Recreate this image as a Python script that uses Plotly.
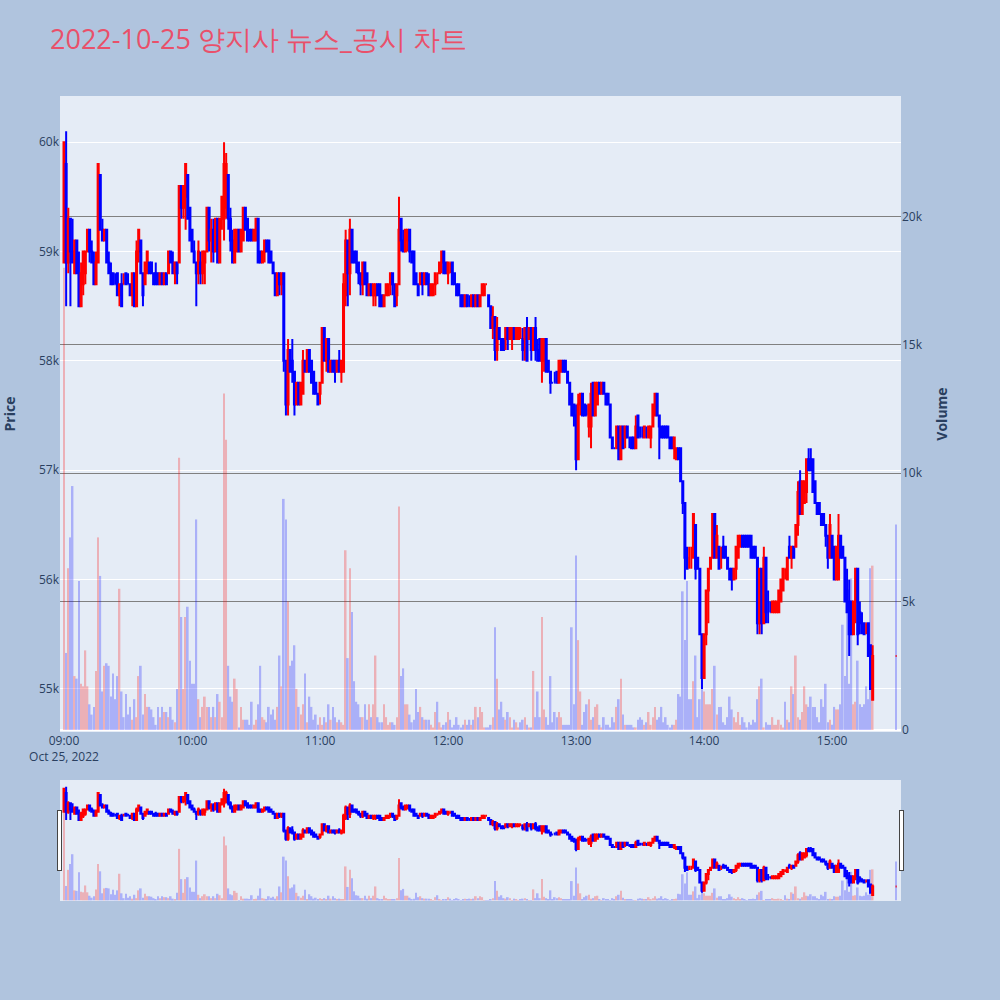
import pandas as pd
import plotly.graph_objects as go

# prices are in hundreds of won (589 -> 58,900)
open_h = [
    589,598,589,593,590,588,591,588,585,587, 588,590,592,590,589,587,589,597,592,591,
    592,589,588,588,587,588,586,587,587,588, 587,587,586,588,585,590,591,588,587,588,
    589,589,588,588,588,587,588,587,588,588, 590,589,588,589,589,596,594,595,597,594,
    592,590,589,588,589,588,589,590,594,591, 592,590,593,589,593,593,594,597,593,591,
    589,590,592,590,591,594,593,592,592,591, 591,593,590,589,590,591,591,590,589,588,
    586,588,587,588,580,576,581,580,579,576, 578,576,577,580,579,581,580,579,578,577,
    577,578,583,580,582,579,580,580,579,580, 579,579,586,591,588,592,590,590,589,588,
    587,589,588,586,587,586,586,587,587,586, 585,586,586,587,588,587,586,587,593,591,
    590,591,592,590,590,588,587,587,588,587, 588,587,586,586,587,588,588,589,590,589,
    588,589,589,588,587,587,586,586,585,586, 585,585,586,585,586,585,586,586,587,586,
    585,583,584,581,583,582,582,582,583,582, 582,583,582,582,583,582,582,583,582,583,
    581,583,581,582,580,580,582,580,579,578, 578,579,578,579,580,580,579,578,577,576,
    575,571,576,577,576,575,574,574,578,575, 576,578,577,578,577,577,576,573,572,572,
    574,571,574,573,574,573,573,573,572,575, 573,573,573,573,573,573,574,575,577,575,
    574,574,574,574,573,573,572,571,572,572, 569,567,562,562,562,562,565,562,561,555,
    551,555,559,561,562,566,562,563,562,563, 563,562,561,561,560,561,562,563,564,564,
    564,564,564,563,563,562,556,561,556,562, 557,557,557,557,557,557,558,559,561,560,
    563,562,563,563,565,569,566,567,568,571, 571,571,569,567,567,566,566,565,564,562,
    564,563,560,560,564,563,562,559,558,558, 555,558,561,557,556,556,556,556,554,549,
    553,
]
high_h = [
    600,601,594,593,593,591,591,590,589,590, 590,592,592,591,590,590,598,597,593,592,
    592,590,589,588,588,588,587,588,588,588, 588,587,588,588,591,592,591,588,589,590,
    589,589,588,589,588,588,588,588,588,590, 590,590,589,589,596,596,596,598,597,594,
    592,591,589,591,590,590,590,594,594,593, 593,593,593,593,595,600,599,597,594,592,
    592,592,592,592,594,594,593,592,592,592, 593,593,590,590,591,591,591,590,589,588,
    588,588,588,588,580,582,581,582,579,578, 578,578,581,580,581,581,580,579,578,577,
    578,583,583,582,582,580,580,580,580,581, 580,588,592,591,593,592,590,590,589,588,
    589,589,588,587,587,587,587,587,587,586, 586,587,587,588,588,587,587,595,593,592,
    592,592,592,590,590,588,587,588,588,588, 588,588,587,587,588,588,589,590,590,589,
    589,589,589,588,587,587,586,586,586,586, 586,586,586,586,586,586,587,587,587,586,
    585,585,584,584,583,582,582,583,583,583, 583,583,583,583,583,583,583,584,583,583,
    583,584,582,582,582,582,582,580,579,578, 579,579,580,580,580,580,579,578,577,576,
    576,577,577,577,576,576,576,578,578,578, 578,578,578,578,577,577,576,573,572,574,
    574,574,574,574,574,573,573,573,575,575, 574,574,574,574,574,574,576,577,577,575,
    574,574,574,574,573,573,573,572,572,572, 569,567,563,563,563,566,565,562,561,555,
    555,559,561,562,566,566,565,563,563,564, 563,562,561,561,561,563,564,564,564,564,
    564,564,564,563,563,562,561,561,563,562, 559,558,558,558,558,559,560,561,561,562,
    564,563,563,565,569,570,569,569,571,572, 572,571,569,567,567,566,566,565,564,566,
    564,563,563,566,564,563,562,561,560,558, 558,561,561,558,557,556,556,556,554,554,
    553,
]
low_h = [
    589,585,588,585,589,588,588,585,585,586, 587,590,589,589,587,587,589,592,591,591,
    589,588,587,587,587,586,585,585,587,587, 587,586,585,585,585,589,588,585,587,588,
    588,588,587,587,587,587,587,587,587,588, 589,588,587,587,589,593,593,592,593,591,
    590,589,585,587,587,587,587,590,590,589, 589,590,589,589,592,591,593,592,590,589,
    589,590,590,590,591,592,591,591,591,591, 591,589,589,589,589,590,589,589,588,586,
    586,586,586,579,575,575,579,578,575,576, 576,576,577,579,579,579,578,577,577,576,
    576,578,580,579,579,579,579,578,579,579, 578,579,585,585,586,589,589,588,587,586,
    586,587,586,586,586,585,585,586,585,585, 585,586,586,586,586,585,585,587,590,590,
    590,590,589,589,587,587,586,587,586,587, 587,586,586,586,586,587,588,588,588,588,
    587,588,587,587,586,586,585,585,585,585, 585,585,585,585,585,585,586,586,587,585,
    583,582,580,580,582,581,581,581,581,582, 581,582,582,582,582,580,580,580,582,580,
    581,580,580,580,578,579,579,579,577,578, 578,578,578,579,579,579,578,576,575,574,
    570,571,575,575,575,575,573,572,575,575, 576,577,577,577,576,576,573,572,572,572,
    571,571,572,572,573,572,572,572,572,573, 573,573,573,573,573,572,574,575,575,571,
    573,573,573,573,572,572,571,571,571,569, 566,560,561,561,561,562,560,561,555,550,
    551,554,556,561,562,562,562,561,561,562, 562,561,560,559,560,560,562,563,563,563,
    563,563,562,562,562,555,555,555,556,556, 556,557,557,557,557,557,558,559,560,560,
    562,561,562,563,564,566,566,567,567,570, 570,568,567,566,566,565,565,563,561,562,
    562,560,560,560,562,562,558,557,553,555, 555,556,554,555,555,555,555,553,550,549,
    553,
]
close_h = [
    600,589,593,590,589,591,588,585,588,590, 590,592,590,589,587,589,598,592,591,592,
    589,588,587,587,587,586,587,585,587,587, 587,586,588,585,590,592,588,586,589,590,
    588,588,587,587,587,588,587,588,587,590, 589,588,589,588,596,594,596,598,593,591,
    590,589,588,590,588,590,590,594,591,592, 590,593,589,593,595,598,598,593,591,589,
    592,592,590,592,594,592,591,591,591,592, 593,589,589,590,591,590,589,589,588,586,
    588,587,588,580,576,581,579,579,576,578, 576,578,580,579,581,579,578,577,577,576,
    578,583,580,582,579,580,579,579,580,579, 580,587,591,588,592,589,589,589,588,587,
    589,587,586,587,586,587,587,586,585,585, 586,587,587,588,587,585,587,592,591,590,
    592,592,590,589,587,587,586,588,587,588, 587,586,587,587,588,588,589,590,588,588,
    589,589,587,587,586,586,585,585,586,585, 585,586,585,586,585,586,587,587,587,585,
    583,584,581,583,582,581,581,583,582,583, 583,582,583,583,583,581,583,580,583,581,
    583,581,580,580,582,582,579,579,578,578, 578,578,580,580,579,579,578,576,575,575,
    571,576,577,575,575,575,576,577,575,578, 578,577,578,577,576,576,573,572,572,574,
    571,574,572,574,573,573,572,572,574,573, 573,573,574,573,574,574,576,577,575,574,
    573,573,573,573,572,572,573,572,571,569, 567,562,561,562,562,566,561,561,555,551,
    555,559,561,562,566,562,564,561,562,562, 562,561,560,560,561,563,564,564,563,563,
    563,563,562,562,562,556,561,556,562,557, 557,557,558,558,558,559,560,561,561,562,
    562,563,562,565,568,566,569,569,571,570, 570,568,567,566,566,565,565,564,562,565,
    562,560,563,564,562,562,558,557,555,555, 558,561,555,556,556,555,556,553,550,553,
    553,
]
volume = [
    18000,3000,6300,7500,9500,2100,2000,5800,1800,1700, 3100,1700,1000,600,900,2300,7500,6000,1500,2500,
    2600,2500,1300,2200,1200,2100,5500,1500,500,1400, 600,900,400,1200,500,2100,2500,600,1400,900,
    900,800,500,200,900,500,900,700,700,500, 900,400,300,1600,10600,4400,1600,4400,4800,2700,
    1800,1800,8200,1200,500,900,1300,900,900,500, 900,500,1400,1100,500,13100,11300,2500,1300,1100,
    2000,1600,100,900,400,400,400,200,1100,200, 400,1000,2500,500,400,300,900,600,800,400,
    900,2900,1700,9000,8200,5000,2500,2700,3300,1600, 900,600,1000,2200,300,1300,900,400,600,200,
    500,200,500,300,1000,400,900,500,300,400, 300,200,7000,2800,6300,4600,1900,1100,1000,500,
    500,1000,400,1000,500,1000,2900,500,300,300, 1000,500,200,300,300,200,500,8700,2100,2400,
    1000,1000,600,300,400,1600,700,900,500,400, 400,400,200,100,700,1100,300,100,200,300,
    700,400,100,200,500,200,100,200,400,200, 400,200,400,900,500,900,700,100,100,100,
    200,500,4000,2000,800,1100,500,400,700,500, 100,400,300,100,300,400,500,200,100,100,
    2300,500,1500,500,4400,800,500,200,2100,300, 700,500,700,500,200,200,200,200,4000,1000,
    6800,3500,1500,200,700,1000,1200,400,500,900, 1000,200,100,500,200,200,100,500,300,900,
    1200,2000,600,200,200,200,200,100,100,400, 500,400,200,300,700,200,500,900,400,500,
    900,300,500,200,100,200,200,400,1400,1300, 5400,3500,5800,1200,1200,1900,2900,500,1200,2000,
    1500,1000,1000,1000,1600,2500,600,900,900,300, 200,500,1300,800,500,300,700,200,500,300,
    100,300,200,400,300,1200,1700,2000,100,300, 200,200,500,200,200,400,200,100,1100,400,
    300,1700,1400,2900,500,400,700,1700,1000,900, 1300,900,900,500,300,1200,900,1800,300,400,
    200,900,800,800,1000,4100,2100,5900,1800,5900, 1000,1100,2700,1000,900,1000,1700,1200,6300,6400,
    8000,
]

# one-minute bars 09:00-15:19 plus the 15:30 closing auction
session = pd.date_range("2022-10-25 09:00", "2022-10-25 15:19", freq="min")
times = list(session) + [pd.Timestamp("2022-10-25 15:30")]

o = [v * 100 for v in open_h]
h = [v * 100 for v in high_h]
l = [v * 100 for v in low_h]
c = [v * 100 for v in close_h]
vol_colors = ["red" if cc > oo else "blue" for oo, cc in zip(o, c)]

fig = go.Figure()
# volume on the base (right-hand) axis so the candles are drawn above it
fig.add_trace(
    go.Bar(x=times, y=volume, marker=dict(color=vol_colors, line_width=0),
           opacity=0.25, showlegend=False, name="Volume", yaxis="y")
)
fig.add_trace(
    go.Candlestick(
        x=times, open=o, high=h, low=l, close=c,
        increasing=dict(line=dict(color="red"), fillcolor="red"),
        decreasing=dict(line=dict(color="blue"), fillcolor="blue"),
        showlegend=False, name="Price", yaxis="y2",
    )
)

fig.update_layout(
    width=1000, height=1000,
    paper_bgcolor="lightsteelblue",
    plot_bgcolor="#E5ECF6",
    title=dict(text="2022-10-25 양지사 뉴스_공시 차트", x=0.05, xanchor="left",
               y=0.96, yanchor="middle", font=dict(size=27, color="#E9506A")),
    margin=dict(l=60, r=99, t=96, b=100),
    showlegend=False,
    xaxis=dict(
        domain=[0, 1],
        range=["2022-10-25 08:58:07", "2022-10-25 15:32:17"],
        rangeslider=dict(visible=True, bgcolor="#E5ECF6"),
        automargin=False,
    ),
    yaxis=dict(title=dict(text="<b>Volume</b>"), side="right", range=[-78, 24690],
               gridcolor="gray", automargin=False),
    yaxis2=dict(title=dict(text="<b>Price</b>", standoff=20), side="left",
                overlaying="y", anchor="x", range=[54606, 60422], automargin=False),
)

fig.write_html("out.html", config={"displayModeBar": False},
               post_script="document.body.style.margin='0px';")
